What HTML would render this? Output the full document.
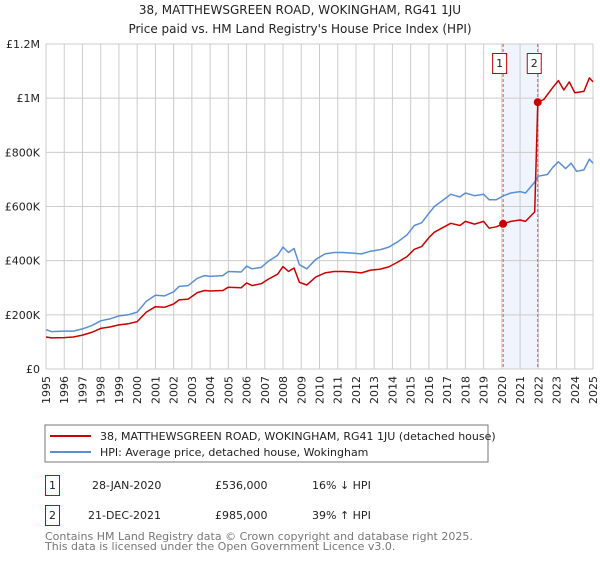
<!DOCTYPE html>
<html><head><meta charset="utf-8"><style>
body{margin:0;background:#fff;font-family:"DejaVu Sans","Liberation Sans",sans-serif;}
svg text{font-family:"DejaVu Sans","Liberation Sans",sans-serif;}
</style></head><body>
<svg id="c" width="600" height="560" xmlns="http://www.w3.org/2000/svg">
<text x="300" y="14" text-anchor="middle" font-size="12" fill="#222">38, MATTHEWSGREEN ROAD, WOKINGHAM, RG41 1JU</text>
<text x="300" y="33" text-anchor="middle" font-size="12" fill="#222">Price paid vs. HM Land Registry's House Price Index (HPI)</text>
<g id="plot"></g>
<rect x="45" y="425" width="443" height="37" fill="#fff" stroke="#777"/>
<line x1="50" y1="436" x2="91" y2="436" stroke="#cc0000" stroke-width="2"/>
<text x="100" y="440" font-size="11" fill="#222">38, MATTHEWSGREEN ROAD, WOKINGHAM, RG41 1JU (detached house)</text>
<line x1="50" y1="452" x2="91" y2="452" stroke="#5b8fd4" stroke-width="2"/>
<text x="100" y="456" font-size="11" fill="#222">HPI: Average price, detached house, Wokingham</text>
<g>
<rect x="45.5" y="475.5" width="14" height="20" fill="#fff" stroke="#cc0000"/>
<text x="52.5" y="489" text-anchor="middle" font-size="11" fill="#222">1</text>
<text x="92" y="489" font-size="11" fill="#222">28-JAN-2020</text>
<text x="215" y="489" font-size="11" fill="#222">£536,000</text>
<text x="312" y="489" font-size="11" fill="#222">16% ↓ HPI</text>
</g>
<g>
<rect x="45.5" y="505.5" width="14" height="20" fill="#fff" stroke="#cc0000"/>
<text x="52.5" y="519" text-anchor="middle" font-size="11" fill="#222">2</text>
<text x="88" y="519" font-size="11" fill="#222">21-DEC-2021</text>
<text x="215" y="519" font-size="11" fill="#222">£985,000</text>
<text x="312" y="519" font-size="11" fill="#222">39% ↑ HPI</text>
</g>
<text x="45" y="540" font-size="11" fill="#777">Contains HM Land Registry data © Crown copyright and database right 2025.</text>
<text x="45" y="550" font-size="11" fill="#777">This data is licensed under the Open Government Licence v3.0.</text>
</svg>
<script>
const hpiYears=[1995,1995.3,1996,1996.5,1997,1997.5,1998,1998.5,1999,1999.5,2000,2000.5,2001,2001.5,2002,2002.3,2002.8,2003.3,2003.7,2004,2004.7,2005,2005.7,2006,2006.3,2006.8,2007.2,2007.7,2008,2008.3,2008.6,2008.9,2009.3,2009.8,2010.3,2010.8,2011.3,2011.8,2012.3,2012.8,2013.3,2013.8,2014.3,2014.8,2015.2,2015.6,2016,2016.3,2016.7,2017.2,2017.7,2018,2018.5,2019,2019.3,2019.7,2020.1,2020.5,2021,2021.3,2021.8,2022,2022.5,2022.8,2023.1,2023.5,2023.8,2024.1,2024.5,2024.8,2025];
const hpiValues=[145,138,140,140,148,160,178,185,196,200,210,250,272,270,285,305,308,335,345,342,345,360,358,380,370,375,398,420,450,430,445,385,370,405,425,430,430,428,425,435,440,450,470,495,530,540,575,600,620,645,635,650,640,645,625,625,640,650,655,650,690,712,718,745,765,740,760,730,735,775,760];
const priceYears=[1995,1995.3,1996,1996.5,1997,1997.5,1998,1998.5,1999,1999.5,2000,2000.5,2001,2001.5,2002,2002.3,2002.8,2003.3,2003.7,2004,2004.7,2005,2005.7,2006,2006.3,2006.8,2007.2,2007.7,2008,2008.3,2008.6,2008.9,2009.3,2009.8,2010.3,2010.8,2011.3,2011.8,2012.3,2012.8,2013.3,2013.8,2014.3,2014.8,2015.2,2015.6,2016,2016.3,2016.7,2017.2,2017.7,2018,2018.5,2019,2019.3,2019.7,2020.07,2020.5,2021,2021.3,2021.8,2021.97,2022.3,2022.8,2023.1,2023.4,2023.7,2024.0,2024.5,2024.8,2025];
const priceValues=[118,115,116,118,125,135,150,155,163,167,175,210,230,228,240,255,258,282,290,288,290,302,300,318,308,315,332,350,378,360,373,320,310,340,355,360,360,358,355,365,368,377,395,415,442,452,485,505,520,538,530,545,535,545,520,525,536,545,550,545,580,985,995,1040,1065,1030,1060,1020,1025,1075,1060];
const saleYears=[2020.07,2021.97];
const saleValues=[536,985];
const saleLabels=["1","2"];
const yTicks=[0,200,400,600,800,1000,1200];
const yTickLabels=["£0","£200K","£400K","£600K","£800K","£1M","£1.2M"];
const xTicks=[1995,1996,1997,1998,1999,2000,2001,2002,2003,2004,2005,2006,2007,2008,2009,2010,2011,2012,2013,2014,2015,2016,2017,2018,2019,2020,2021,2022,2023,2024,2025];

const X0=46,X1=593,Y0=369,Y1=44;
const xs=y=>X0+(y-1995)/30*(X1-X0);
const ys=v=>Y0-v/1200*(Y0-Y1);
const NS="http://www.w3.org/2000/svg";
const g=document.getElementById('plot');
function el(t,a,p){const e=document.createElementNS(NS,t);for(const k in a)e.setAttribute(k,a[k]);(p||g).appendChild(e);return e;}

const band=el('rect',{x:xs(saleYears[0]),y:Y1,width:xs(saleYears[1])-xs(saleYears[0]),height:Y0-Y1,fill:'#f0f4fc'});



xTicks.forEach(t=>{
  const l=el('line',{x1:xs(t),x2:xs(t),y1:Y1,y2:Y0,stroke:'#ccc','stroke-width':1});
  
  
  const wrap=el('g',{transform:'translate('+(xs(t)+4)+','+(Y0+7)+') rotate(-90)'});
  const tx=el('text',{x:0,y:0,'text-anchor':'end','font-size':11,fill:'#222'},wrap);
  tx.textContent=t;
  
  
});
yTicks.forEach((t,i)=>{
  const l=el('line',{x1:X0,x2:X1,y1:ys(t),y2:ys(t),stroke:'#ccc','stroke-width':1});
  
  
  const tx=el('text',{x:X0-6,y:ys(t)+4,'text-anchor':'end','font-size':11,fill:'#222'});
  tx.textContent=yTickLabels[i];
  
  
});

saleYears.forEach((s,i)=>{
  const l=el('line',{x1:xs(s),x2:xs(s),y1:Y1,y2:Y0,stroke:'#e05050','stroke-width':1,'stroke-dasharray':'3,2'});
  
  
});

function path(xa,va,color,name){
  const d=xa.map((x,i)=>(i?'L':'M')+xs(x).toFixed(1)+','+ys(va[i]).toFixed(1)).join('');
  const p=el('path',{d:d,fill:'none',stroke:color,'stroke-width':1.5,'stroke-linejoin':'round'});
  
  
}
path(hpiYears,hpiValues,'#5b8fd4','hpi-line');
path(priceYears,priceValues,'#cc0000','price-paid-line');

saleYears.forEach((s,i)=>{
  const c=el('circle',{cx:xs(s),cy:ys(saleValues[i]),r:4,fill:'#cc0000'});
  
  
  const r=el('rect',{x:xs(s)-10.5,y:53.5,width:14,height:20,fill:'#fff',stroke:'#cc0000'});
  
  
  const t=el('text',{x:xs(s)-3.5,y:67,'text-anchor':'middle','font-size':11,fill:'#222'});
  t.textContent=saleLabels[i];
  
  
});
const ax=el('line',{x1:X0,x2:X1,y1:Y0,y2:Y0,stroke:'#ccc'});


</script>
</body></html>
